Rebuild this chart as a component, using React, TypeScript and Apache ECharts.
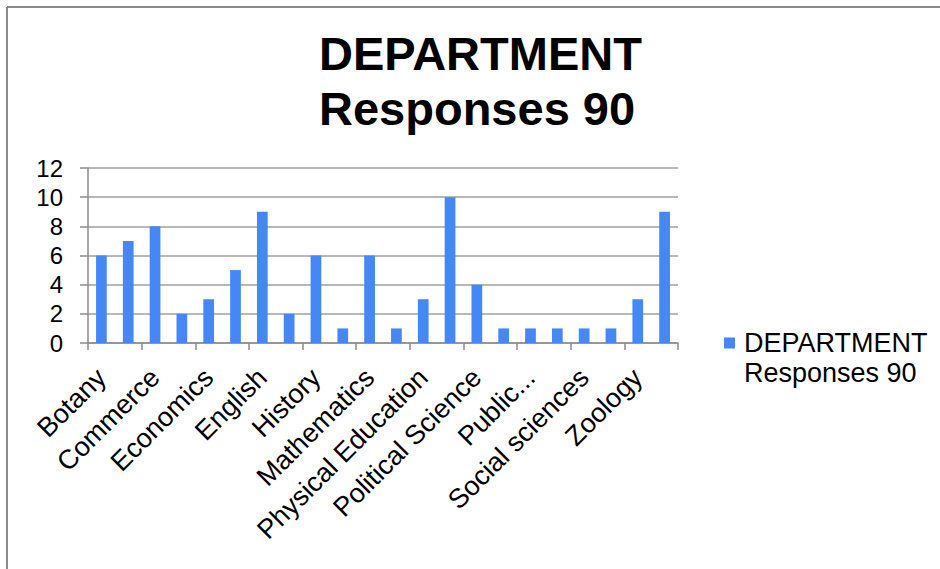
import React, { useEffect, useRef } from "react";
import * as echarts from "echarts";

const categories = [
  "Botany", "Chemistry", "Commerce", "Computer Science", "Economics", "Education",
  "English", "Geography", "History", "Home Science", "Mathematics", "Philosophy",
  "Physical Education", "Physics", "Political Science", "Psychology", "Public...",
  "Sanskrit", "Social sciences", "Statistics", "Zoology", "Others",
];
const values = [6, 7, 8, 2, 3, 5, 9, 2, 6, 1, 6, 1, 3, 10, 4, 1, 1, 1, 1, 1, 3, 9];
const seriesName = "DEPARTMENT\nResponses 90";
const titleText = "DEPARTMENT\nResponses 90";

const FONT = "'Liberation Sans', Arial, sans-serif";
// square at the top-left of a taller/wider invisible box so the icon sits beside the first text line
const LEGEND_ICON = "path://M0,0H10V10H0Z M13.6,37.2H13.61V37.21H13.6Z";

export default function App() {
  const ref = useRef<HTMLDivElement>(null);
  useEffect(() => {
    if (!ref.current) return;
    const chart = echarts.init(ref.current, undefined, { renderer: "svg" });
    chart.setOption({
      animation: false,
      backgroundColor: "#ffffff",
      title: {
        text: titleText,
        left: 314,
        top: 21,
        textAlign: "left",
        textStyle: {
          fontFamily: FONT,
          fontWeight: "bold",
          fontSize: 47,
          lineHeight: 55,
          color: "#000000",
          align: "center",
        },
      },
      legend: {
        data: [seriesName],
        left: 719,
        top: 323,
        itemWidth: 15,
        itemHeight: 41,
        symbolKeepAspect: false,
        itemGap: 0,
        icon: LEGEND_ICON,
        selectedMode: false,
        textStyle: {
          fontFamily: FONT,
          fontSize: 27,
          lineHeight: 30,
          color: "#000000",
        },
      },
      grid: { left: 88, right: 262, top: 168, bottom: 226, containLabel: false },
      xAxis: {
        type: "category",
        data: categories,
        axisLine: { show: true, lineStyle: { color: "#8c8c8c", width: 1.5 } },
        axisTick: { show: true, length: 7, alignWithLabel: false, lineStyle: { color: "#8c8c8c", width: 1.5 } },
        axisLabel: {
          interval: 1,
          rotate: 45,
          margin: 30,
          padding: [36, 0, 0, 0],
          fontFamily: FONT,
          fontSize: 27,
          color: "#000000",
        },
        splitLine: { show: false },
      },
      yAxis: {
        type: "value",
        min: 0,
        max: 12,
        interval: 2,
        axisLine: { show: true, lineStyle: { color: "#8c8c8c", width: 1.5 } },
        axisTick: { show: true, length: 8, inside: false, lineStyle: { color: "#8c8c8c", width: 1.5 } },
        axisLabel: {
          margin: 25,
          fontFamily: FONT,
          fontSize: 24,
          color: "#000000",
        },
        splitLine: { show: true, lineStyle: { color: "#a0a0a0", width: 1.5 } },
      },
      series: [
        {
          name: seriesName,
          type: "bar",
          data: values,
          barWidth: "40%",
          itemStyle: { color: "#4587f4" },
        },
      ],
      graphic: [
        { type: "line", shape: { x1: 7, y1: 7, x2: 940, y2: 7 }, style: { stroke: "#8a8a8a", lineWidth: 2 } },
        { type: "line", shape: { x1: 7, y1: 7, x2: 7, y2: 569 }, style: { stroke: "#8a8a8a", lineWidth: 2 } },
      ],
    });
    return () => chart.dispose();
  }, []);
  return (
    <div
      ref={ref}
      style={{ position: "absolute", left: 0, top: 0, width: 940, height: 569, background: "#fff" }}
    />
  );
}
